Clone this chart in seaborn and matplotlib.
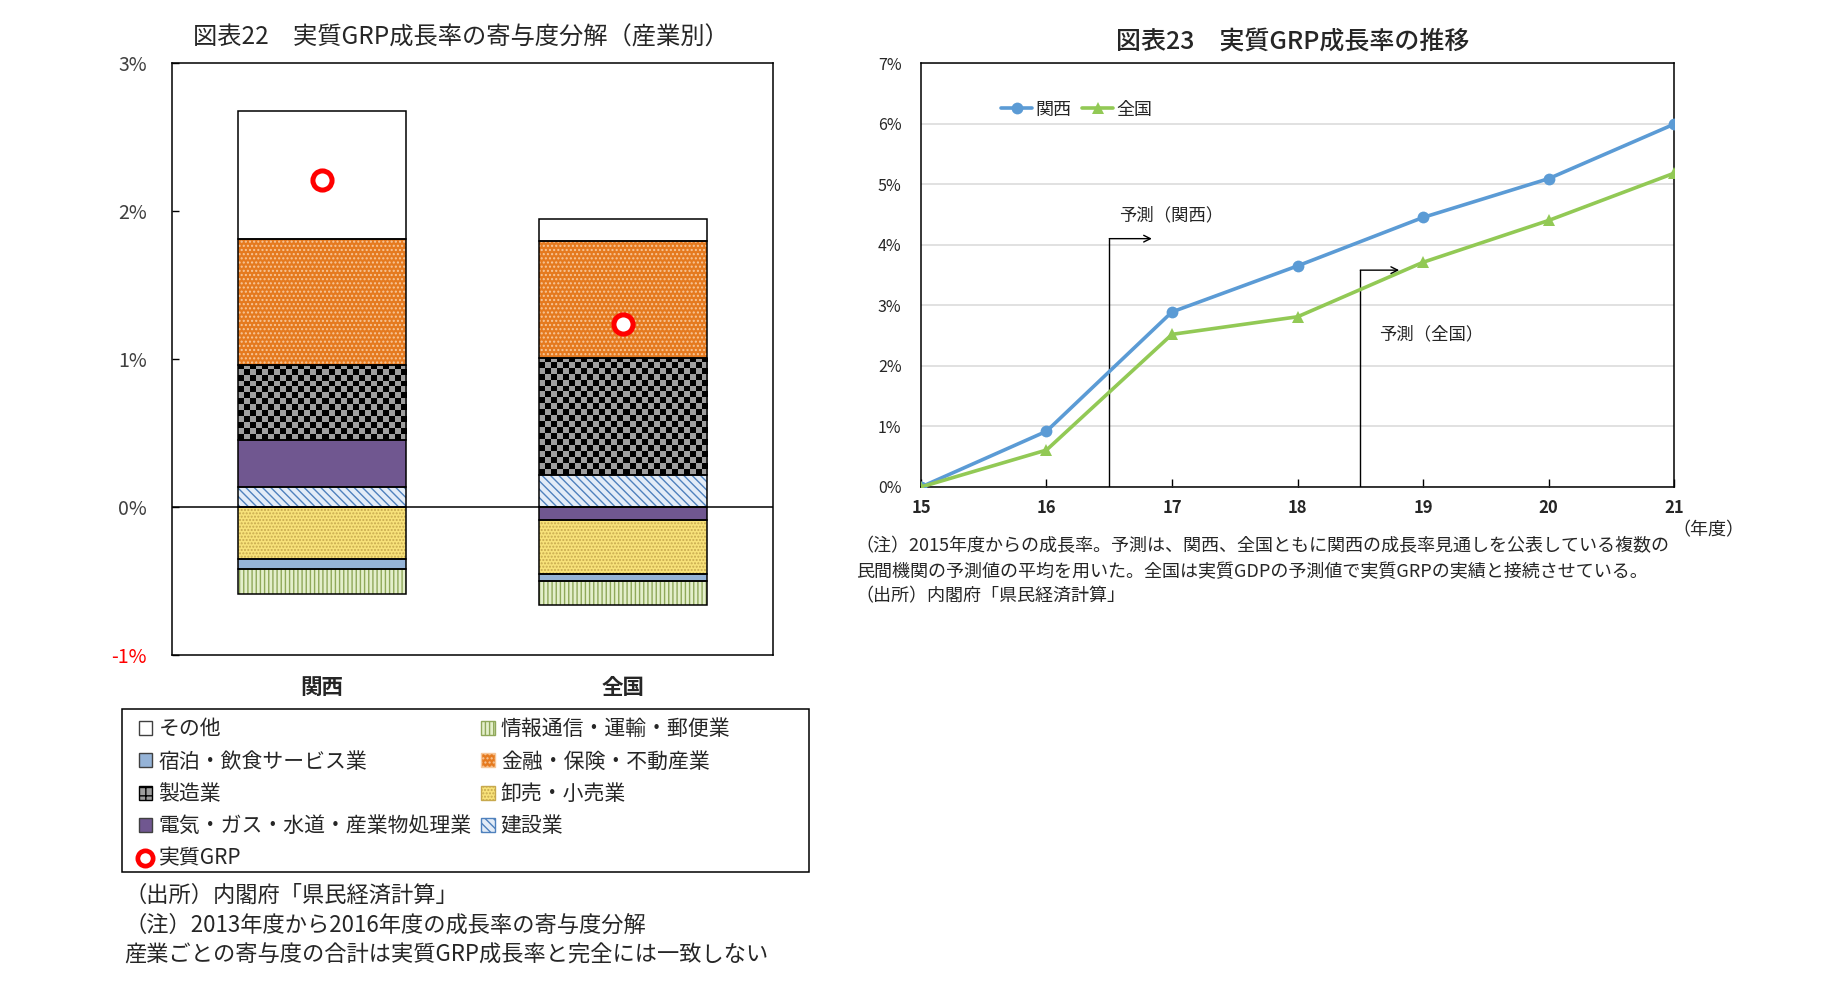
import matplotlib
matplotlib.use("Agg")
import matplotlib.pyplot as plt
import numpy as np
import pandas as pd
import seaborn as sns
from matplotlib.lines import Line2D
from matplotlib.patches import Patch, Rectangle

# ---- data: 図表22 寄与度分解 (stack order as in the source sheet) ----
SECTORS = [
    "建設業",
    "電気・ガス・水道・産業物処理業",
    "卸売・小売業",
    "製造業",
    "金融・保険・不動産業",
    "宿泊・飲食サービス業",
    "情報通信・運輸・郵便業",
    "その他",
]
REGIONS = ["関西", "全国"]
KANSAI_CONTRIB = [0.138, 0.313, -0.354, 0.511, 0.850, -0.064, -0.167, 0.867]
ZENKOKU_CONTRIB = [0.214, -0.090, -0.366, 0.791, 0.794, -0.041, -0.162, 0.147]
REAL_GRP = [2.21, 1.235]

# ---- data: 図表23 成長率の推移 ----
YEARS = [15, 16, 17, 18, 19, 20, 21]
KANSAI_GROWTH = [0.0, 0.92, 2.89, 3.65, 4.45, 5.09, 5.99]
ZENKOKU_GROWTH = [0.0, 0.61, 2.52, 2.81, 3.71, 4.40, 5.18]
FORECAST_START = {"関西": 16.5, "全国": 18.5}

SECTOR_STYLE = {
    "その他": dict(face="white", hatch=None, hc="black"),
    "情報通信・運輸・郵便業": dict(face="#E4EFCB", hatch="||||", hc="#8FA85A"),
    "宿泊・飲食サービス業": dict(face="#95B3D7", hatch=None, hc="black"),
    "金融・保険・不動産業": dict(face="#E57A1F", hatch="....", hc="#F7C79A"),
    "製造業": dict(face="#A6A6A6", hatch="checker", hc="black"),
    "卸売・小売業": dict(face="#F8E27A", hatch=".....", hc="#C7A94E"),
    "電気・ガス・水道・産業物処理業": dict(face="#705790", hatch=None, hc="black"),
    "建設業": dict(face="#E3ECF7", hatch="\\\\\\\\", hc="#4F81BD"),
}

sns.set_theme(style="white")
plt.rcParams["font.family"] = ["Noto Sans CJK JP", "DejaVu Sans"]
plt.rcParams["hatch.linewidth"] = 1.0

fig = plt.figure(figsize=(18.39, 9.86), dpi=100)
fig.patch.set_facecolor("white")

# ================= left: stacked contributions =================
ax = fig.add_axes([0.0935, 0.3357, 0.3268, 0.6004])
BAR_W = 0.56
CELL_X, CELL_Y = 0.02, 0.04
xpos = np.arange(len(REGIONS))
contrib = pd.DataFrame({"関西": KANSAI_CONTRIB, "全国": ZENKOKU_CONTRIB}, index=SECTORS)

pos_base = np.zeros(len(REGIONS))
neg_base = np.zeros(len(REGIONS))
for sector in SECTORS:
    st = SECTOR_STYLE[sector]
    for j, reg in enumerate(REGIONS):
        v = contrib.loc[sector, reg]
        b = pos_base[j] if v >= 0 else neg_base[j]
        if st["hatch"] == "checker":
            bars = ax.bar(xpos[j], v, bottom=b, width=BAR_W, color=st["face"],
                          linewidth=0, zorder=2)
            x0 = xpos[j] - BAR_W / 2
            y0 = min(b, b + v)
            nx = int(np.ceil(BAR_W / CELL_X))
            ny = int(np.ceil(abs(v) / CELL_Y))
            ii, jj = np.indices((ny, nx))
            img = np.where(((ii + jj) % 2 == 0)[..., None],
                           np.array([0.0, 0.0, 0.0]), np.array([0.62, 0.62, 0.62]))
            im = ax.imshow(img, extent=(x0, x0 + nx * CELL_X, y0, y0 + ny * CELL_Y),
                           origin="lower", interpolation="nearest", aspect="auto", zorder=2.5)
            im.set_clip_path(bars.patches[0])
        else:
            ax.bar(xpos[j], v, bottom=b, width=BAR_W, color=st["face"],
                   edgecolor=st["hc"], hatch=st["hatch"], linewidth=0, zorder=2)
        ax.bar(xpos[j], v, bottom=b, width=BAR_W, fill=False,
               edgecolor="black", linewidth=1.1, zorder=3)
        if v >= 0:
            pos_base[j] += v
        else:
            neg_base[j] += v

ax.axhline(0, color="black", linewidth=1.1, zorder=4)
sns.scatterplot(x=xpos, y=REAL_GRP, ax=ax, marker="o", s=190, color="white",
                edgecolor="#FF0000", linewidth=3.6, zorder=6, legend=False)

ax.set_xlim(-0.5, 1.5)
ax.set_ylim(-1, 3)
ax.set_yticks([-1, 0, 1, 2, 3])
ax.set_yticklabels(["-1%", "0%", "1%", "2%", "3%"])
ax.set_xticks(xpos)
ax.set_xticklabels(REGIONS, fontsize=15.5, fontweight="bold")
ax.tick_params(axis="y", direction="in", length=5, width=1, color="black",
               labelsize=14, labelcolor="#404040", pad=18, left=True)
ax.tick_params(axis="x", length=0, pad=16)
ax.get_yticklabels()[0].set_color("#FF0000")
for s in ax.spines.values():
    s.set_color("black")
    s.set_linewidth(1.1)
ax.set_xlabel("")
ax.set_ylabel("")
fig.text(0.2507, 0.962, "図表22\u3000実質GRP成長率の寄与度分解（産業別）",
         ha="center", va="center", fontsize=17.5)

# legend for left chart (rows read left-to-right as in the source)
def sector_handle(name):
    st = SECTOR_STYLE[name]
    if st["hatch"] == "checker":
        return Patch(facecolor="#9E9E9E", edgecolor="black", hatch="++", linewidth=1)
    if st["hatch"] is None:
        return Patch(facecolor=st["face"], edgecolor="#404040", linewidth=1)
    return Patch(facecolor=st["face"], edgecolor=st["hc"], hatch=st["hatch"], linewidth=1)

grp_handle = Line2D([], [], linestyle="none", marker="o", markersize=11,
                    markerfacecolor="white", markeredgecolor="#FF0000", markeredgewidth=3.4)
leg_order = ["その他", "宿泊・飲食サービス業", "製造業", "電気・ガス・水道・産業物処理業",
             "実質GRP", "情報通信・運輸・郵便業", "金融・保険・不動産業", "卸売・小売業", "建設業"]
handles = [grp_handle if n == "実質GRP" else sector_handle(n) for n in leg_order]
fig.legend(handles, leg_order, loc="upper left", bbox_to_anchor=(0.0675, 0.2865),
           ncol=2, frameon=False, fontsize=15, handlelength=0.65, handleheight=0.65,
           handletextpad=0.3, labelspacing=0.5, columnspacing=0.45, borderpad=0.2)
fig.patches.append(Rectangle((0.0663, 0.1156), 0.3737, 0.1654, transform=fig.transFigure,
                             fill=False, edgecolor="black", linewidth=1.1))

left_notes = ["（出所）内閣府「県民経済計算」",
              "（注）2013年度から2016年度の成長率の寄与度分解",
              "産業ごとの寄与度の合計は実質GRP成長率と完全には一致しない"]
for txt, yy in zip(left_notes, [0.0918, 0.0615, 0.031]):
    fig.text(0.0676, yy, txt, ha="left", va="center", fontsize=16)

# ================= right: growth paths =================
ax2 = fig.add_axes([0.5008, 0.5061, 0.4095, 0.43])
growth = pd.DataFrame({
    "年度": YEARS * 2,
    "成長率": KANSAI_GROWTH + ZENKOKU_GROWTH,
    "地域": ["関西"] * len(YEARS) + ["全国"] * len(YEARS),
})
palette = {"関西": "#5B9BD5", "全国": "#92C955"}
sns.lineplot(data=growth, x="年度", y="成長率", hue="地域", style="地域",
             markers={"関西": "o", "全国": "^"}, dashes=False, palette=palette,
             linewidth=2.6, markersize=8.5, markeredgewidth=0, ax=ax2, zorder=3)
sns.move_legend(ax2, loc="center left", bbox_to_anchor=(0.085, 0.89), ncol=2,
                frameon=False, title=None, fontsize=13, handlelength=1.7,
                handletextpad=0.2, columnspacing=0.6)

ax2.set_xlim(15, 21)
ax2.set_ylim(0, 7)
ax2.set_xticks(YEARS)
ax2.set_xticklabels([str(y) for y in YEARS], fontweight="bold")
ax2.set_yticks(range(0, 8))
ax2.set_yticklabels([f"{v}%" for v in range(0, 8)])
ax2.grid(axis="y", color="#D9D9D9", linewidth=1.1, zorder=0)
ax2.set_axisbelow(True)
ax2.tick_params(axis="x", direction="in", length=6, width=1, color="black",
                labelsize=12, pad=9, bottom=True)
ax2.tick_params(axis="y", length=0, labelsize=11.5, pad=14)
for s in ax2.spines.values():
    s.set_color("black")
    s.set_linewidth(1.1)
ax2.set_xlabel("")
ax2.set_ylabel("")

# forecast markers
ann = [("関西", 4.10, 16.84, 16.58, 4.49), ("全国", 3.58, 18.81, 18.65, 2.52)]
for reg, ytop, xarrow, tx, ty in ann:
    x0 = FORECAST_START[reg]
    ax2.plot([x0, x0], [0, ytop], color="black", linewidth=1.0, zorder=2)
    ax2.annotate("", xy=(xarrow, ytop), xytext=(x0, ytop),
                 arrowprops=dict(arrowstyle="->", color="black", lw=1.0,
                                 shrinkA=0, shrinkB=0))
    ax2.text(tx, ty, f"予測（{reg}）", ha="left", va="center", fontsize=12.5)

fig.text(0.9288, 0.4625, "（年度）", ha="center", va="center", fontsize=13)
fig.text(0.7032, 0.958, "図表23\u3000実質GRP成長率の推移", ha="center", va="center",
         fontsize=18, fontweight="medium")

right_notes = ["（注）2015年度からの成長率。予測は、関西、全国ともに関西の成長率見通しを公表している複数の",
               "民間機関の予測値の平均を用いた。全国は実質GDPの予測値で実質GRPの実績と接続させている。",
               "（出所）内閣府「県民経済計算」"]
for txt, yy in zip(right_notes, [0.446, 0.420, 0.395]):
    fig.text(0.4653, yy, txt, ha="left", va="center", fontsize=13)

fig.savefig("out.png", dpi=100, facecolor="white")
